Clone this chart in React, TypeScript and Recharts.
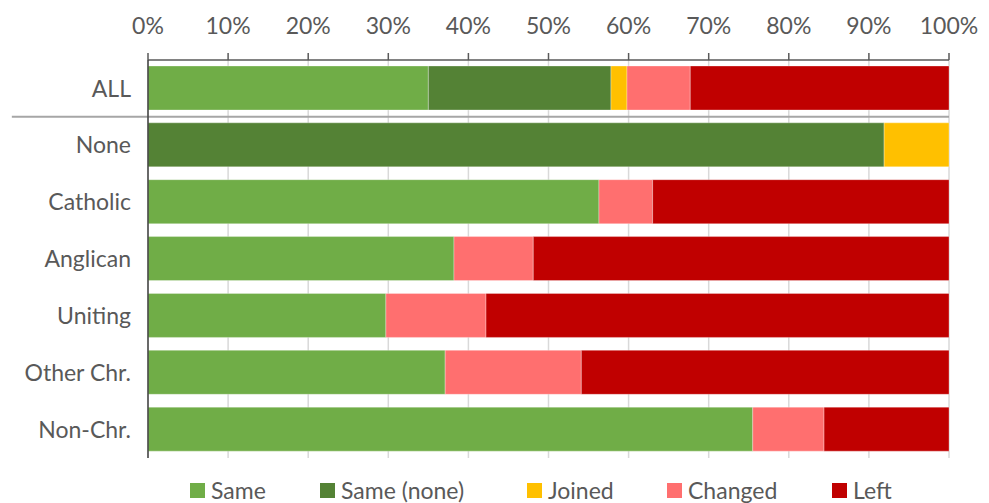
import React from 'react';
import { BarChart, Bar, XAxis, YAxis, CartesianGrid, Legend, ReferenceLine } from 'recharts';

const categories = ['ALL', 'None', 'Catholic', 'Anglican', 'Uniting', 'Other Chr.', 'Non-Chr.'];
const same = [35.0, 0, 56.3, 38.2, 29.7, 37.1, 75.5];
const sameNone = [22.8, 91.9, 0, 0, 0, 0, 0];
const joined = [2.0, 8.1, 0, 0, 0, 0, 0];
const changed = [7.9, 0, 6.7, 9.9, 12.5, 17.0, 8.9];
const left = [32.3, 0, 37.0, 51.9, 57.8, 45.9, 15.6];
const xTicks = [0, 10, 20, 30, 40, 50, 60, 70, 80, 90, 100];

const seriesNames = ['Same', 'Same (none)', 'Joined', 'Changed', 'Left'];
const seriesKeys = ['same', 'sameNone', 'joined', 'changed', 'left'];
const seriesColors = ['#70AD47', '#548235', '#FFC000', '#FF6F6F', '#C00000'];
const legendItemWidths = [130, 207, 140, 165, 80];

const data = categories.map((c, i) => ({
  name: c,
  same: same[i],
  sameNone: sameNone[i],
  joined: joined[i],
  changed: changed[i],
  left: left[i],
}));

const FONT = 'Lato, "Noto Sans", sans-serif';
const TEXT = '#595959';

const LegendContent = () => (
  <div
    style={{
      display: 'flex',
      height: 45,
      paddingLeft: 190,
      paddingTop: 20,
      boxSizing: 'border-box',
      fontFamily: FONT,
      fontSize: 23,
      color: TEXT,
      overflow: 'visible',
    }}
  >
    {seriesNames.map((n, i) => (
      <div key={n} style={{ display: 'flex', alignItems: 'center', height: 24, width: legendItemWidths[i], flex: 'none' }}>
        <span style={{ display: 'inline-block', width: 15, height: 15, background: seriesColors[i], marginRight: 6, flex: 'none' }} />
        <span style={{ lineHeight: '24px', whiteSpace: 'nowrap' }}>{n}</span>
      </div>
    ))}
  </div>
);

export default function App() {
  return (
    <div style={{ position: 'absolute', left: 0, top: 0, width: 989, height: 503, background: '#fff' }}>
      <BarChart
        width={989}
        height={503}
        data={data}
        layout="vertical"
        margin={{ top: 0, right: 40, bottom: 0, left: 0 }}
        barSize={44}
      >
        <CartesianGrid horizontal={false} stroke="#D9D9D9" strokeWidth={1.5} />
        <XAxis
          type="number"
          orientation="top"
          domain={[0, 100]}
          ticks={xTicks}
          tickFormatter={(v) => `${v}%`}
          height={60}
          tickSize={7}
          tickMargin={19}
          interval={0}
          axisLine={{ stroke: '#595959', strokeWidth: 1.5 }}
          tickLine={{ stroke: '#595959', strokeWidth: 1.5 }}
          tick={{ fill: TEXT, fontSize: 23, fontFamily: FONT }}
        />
        <YAxis
          type="category"
          dataKey="name"
          width={148}
          tickLine={false}
          tickSize={0}
          tickMargin={17}
          interval={0}
          axisLine={{ stroke: '#404040', strokeWidth: 1.5 }}
          tick={{ fill: TEXT, fontSize: 23, fontFamily: FONT }}
        />
        {seriesKeys.map((k, i) => (
          <Bar
            key={k}
            dataKey={k}
            name={seriesNames[i]}
            stackId="a"
            fill={seriesColors[i]}
            stroke="rgba(255,255,255,0.3)"
            strokeWidth={1}
            isAnimationActive={false}
          />
        ))}
        <ReferenceLine
          segment={[{ x: -17, y: 'None' }, { x: 100, y: 'None' }]}
          position="start"
          ifOverflow="visible"
          stroke="#A6A6A6"
          strokeWidth={2}
        />
        <Legend verticalAlign="bottom" content={<LegendContent />} wrapperStyle={{ left: 0, width: 989 }} />
      </BarChart>
    </div>
  );
}
